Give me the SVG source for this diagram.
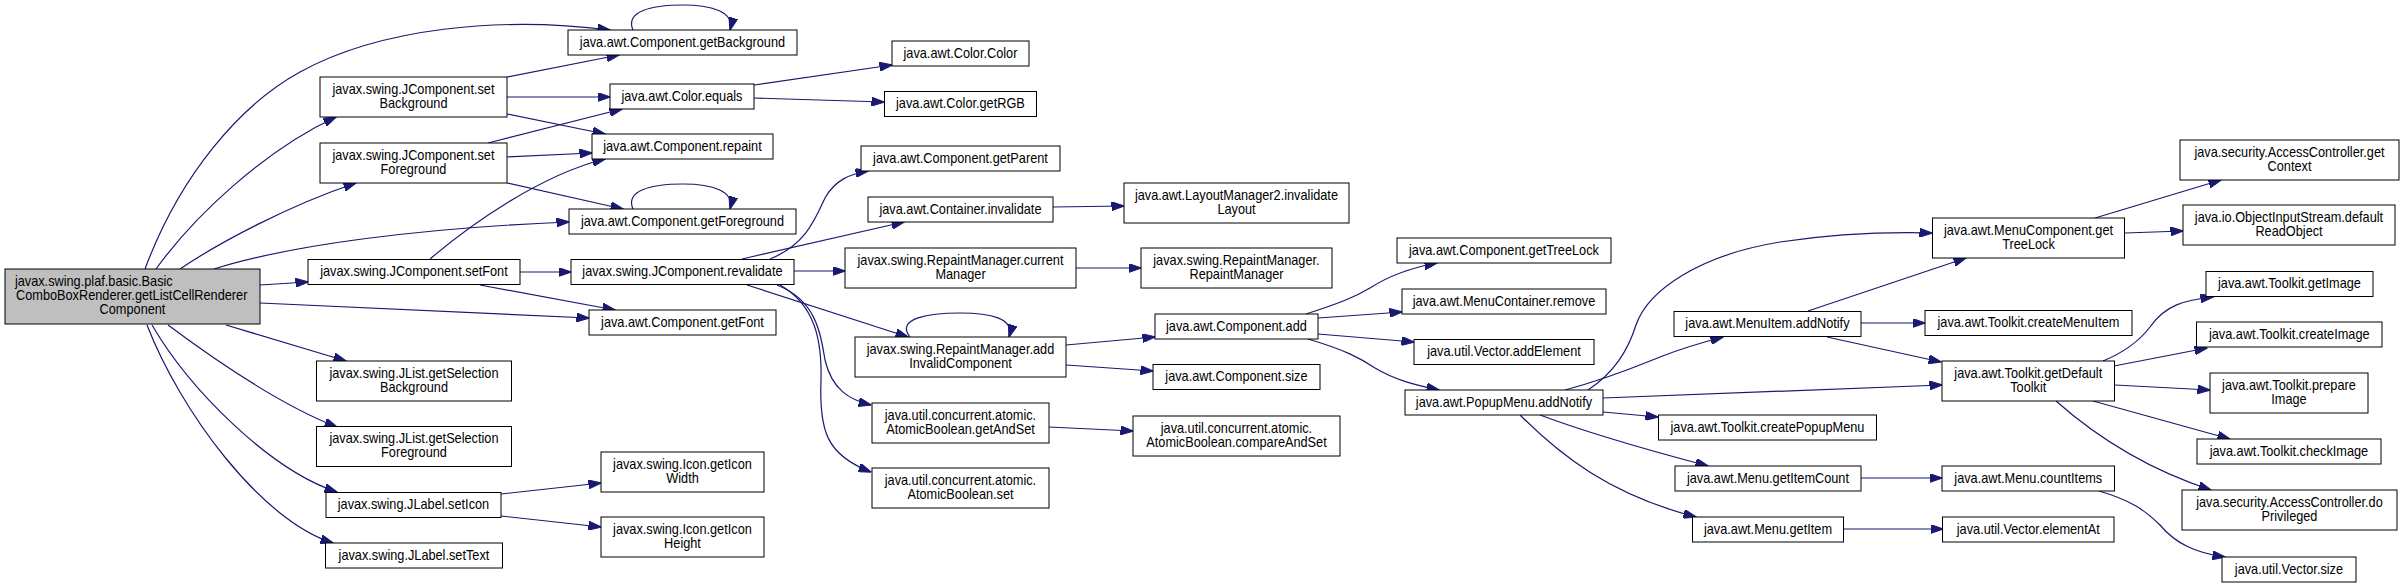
<svg xmlns="http://www.w3.org/2000/svg" width="2404" height="588" viewBox="0 0 2404 588">
<style>
.n rect{fill:#fff;stroke:#000;stroke-width:1}
.root rect{fill:#bfbfbf}
text{font-family:"Liberation Sans",Arial,sans-serif;font-size:14px;fill:#000;text-anchor:middle;transform-box:fill-box;transform-origin:center;transform:scaleX(0.91)}
text.l{text-anchor:start;transform-origin:left center}
#edges path{fill:none;stroke:#191970;stroke-width:1.2;marker-end:url(#a)}
</style>
<defs>
<marker id="a" markerUnits="userSpaceOnUse" markerWidth="13" markerHeight="9" refX="12.5" refY="4.5" orient="auto">
<path d="M0,0 L13,4.5 L0,9 z" fill="#191970" stroke="#191970" stroke-width="1"/>
</marker>
</defs>
<rect width="2404" height="588" fill="#fff"/>
<g id="edges">
<path d="M145,269 C180,175 240,105 300,72 C380,28 500,16 610,30"/>
<path d="M156,269 C195,215 265,150 336,117"/>
<path d="M180,269 C220,242 290,205 356,183"/>
<path d="M214,269 C290,245 420,228 569,222"/>
<path d="M260,285 L308,282"/>
<path d="M260,303 L589,318"/>
<path d="M226,325 L346,361"/>
<path d="M168,325 C215,360 280,405 337,427"/>
<path d="M152,325 C190,390 270,470 337,492"/>
<path d="M147,325 C180,410 260,520 333,543"/>
<path d="M507,77 L619,55"/>
<path d="M507,97 L610,97"/>
<path d="M507,114 L605,134"/>
<path d="M488,143 L622,109"/>
<path d="M507,157 L592,153"/>
<path d="M507,183 L623,209"/>
<path d="M430,259 C470,225 540,175 605,159"/>
<path d="M520,272 L571,272"/>
<path d="M480,285 L615,310"/>
<path d="M633,30 C625,12 650,5 683,5 C712,5 735,12 730,30"/>
<path d="M633,209 C625,191 650,184 683,184 C712,184 735,191 730,209"/>
<path d="M754,85 L892,65"/>
<path d="M754,98 L884,102"/>
<path d="M770,259 C805,245 815,220 825,198 C835,180 850,174 868,171"/>
<path d="M742,259 L904,222"/>
<path d="M794,271 L845,271"/>
<path d="M747,285 L908,337"/>
<path d="M777,285 C815,300 820,330 825,360 C832,390 850,400 871,405"/>
<path d="M780,285 C815,305 822,340 821,380 C819,430 826,455 871,472"/>
<path d="M1053,207 L1124,206"/>
<path d="M1076,268 L1141,268"/>
<path d="M910,337 C895,318 930,313 960,313 C990,313 1015,318 1009,337"/>
<path d="M1066,345 L1155,337"/>
<path d="M1066,365 L1153,371"/>
<path d="M1049,427 L1133,431"/>
<path d="M501,494 L601,483"/>
<path d="M501,516 L601,527"/>
<path d="M1306,314 C1340,303 1355,297 1370,288 C1390,275 1410,268 1437,263"/>
<path d="M1318,318 L1402,312"/>
<path d="M1318,334 L1414,342"/>
<path d="M1308,339 C1345,350 1360,358 1375,368 C1395,380 1415,385 1439,390"/>
<path d="M1588,390 C1615,372 1628,350 1636,325 C1648,290 1700,255 1780,242 C1840,233 1890,232 1932,233"/>
<path d="M1565,390 C1610,378 1640,365 1660,357 C1680,349 1700,343 1723,337"/>
<path d="M1603,398 L1942,385"/>
<path d="M1603,412 L1658,417"/>
<path d="M1540,415 C1580,430 1640,448 1708,466"/>
<path d="M1520,415 C1560,455 1610,495 1696,517"/>
<path d="M1808,311 L1966,258"/>
<path d="M1861,323 L1925,323"/>
<path d="M1827,337 L1941,362"/>
<path d="M2095,218 L2221,180"/>
<path d="M2125,233 L2183,231"/>
<path d="M2103,361 C2125,352 2140,340 2150,327 C2165,305 2185,300 2213,297"/>
<path d="M2114,366 L2207,348"/>
<path d="M2115,385 L2210,390"/>
<path d="M2093,401 L2230,439"/>
<path d="M2056,401 C2100,440 2150,470 2211,490"/>
<path d="M1861,478 L1942,478"/>
<path d="M1844,529 L1943,529"/>
<path d="M2099,491 C2130,500 2145,510 2160,525 C2175,543 2195,553 2225,557"/>
</g>
<g id="n_root" class="n root"><rect x="5" y="269" width="255" height="55"/><text class="l" x="15" y="286.5">javax.swing.plaf.basic.Basic</text><text class="l" x="16" y="300.5">ComboBoxRenderer.getListCellRenderer</text><text x="132.5" y="314.5">Component</text></g>
<g id="n_getBackground" class="n"><rect x="568" y="30" width="229" height="25"/><text x="682.5" y="47">java.awt.Component.getBackground</text></g>
<g id="n_setBackground" class="n"><rect x="320" y="77" width="187" height="40"/><text x="413.5" y="94">javax.swing.JComponent.set</text><text x="413.5" y="108">Background</text></g>
<g id="n_setForeground" class="n"><rect x="320" y="143" width="187" height="40"/><text x="413.5" y="160">javax.swing.JComponent.set</text><text x="413.5" y="174">Foreground</text></g>
<g id="n_colorEquals" class="n"><rect x="610" y="84" width="144" height="25"/><text x="682" y="101">java.awt.Color.equals</text></g>
<g id="n_repaint" class="n"><rect x="592" y="134" width="181" height="25"/><text x="682.5" y="151">java.awt.Component.repaint</text></g>
<g id="n_getForeground" class="n"><rect x="569" y="209" width="227" height="25"/><text x="682.5" y="226">java.awt.Component.getForeground</text></g>
<g id="n_setFont" class="n"><rect x="308" y="259.5" width="212" height="25"/><text x="414" y="276.5">javax.swing.JComponent.setFont</text></g>
<g id="n_revalidate" class="n"><rect x="571" y="259.5" width="223" height="25"/><text x="682.5" y="276.5">javax.swing.JComponent.revalidate</text></g>
<g id="n_getFont" class="n"><rect x="589" y="310" width="187" height="25"/><text x="682.5" y="327">java.awt.Component.getFont</text></g>
<g id="n_getSelBg" class="n"><rect x="316.5" y="361" width="195" height="40"/><text x="414" y="378">javax.swing.JList.getSelection</text><text x="414" y="392">Background</text></g>
<g id="n_getSelFg" class="n"><rect x="316.5" y="426.5" width="195" height="40"/><text x="414" y="443.5">javax.swing.JList.getSelection</text><text x="414" y="457.5">Foreground</text></g>
<g id="n_setIcon" class="n"><rect x="326" y="492.5" width="175" height="25"/><text x="413.5" y="509.5">javax.swing.JLabel.setIcon</text></g>
<g id="n_setText" class="n"><rect x="325.5" y="543" width="177" height="25"/><text x="414" y="560">javax.swing.JLabel.setText</text></g>
<g id="n_getIconWidth" class="n"><rect x="601" y="452" width="163" height="40"/><text x="682.5" y="469">javax.swing.Icon.getIcon</text><text x="682.5" y="483">Width</text></g>
<g id="n_getIconHeight" class="n"><rect x="601" y="517" width="163" height="40"/><text x="682.5" y="534">javax.swing.Icon.getIcon</text><text x="682.5" y="548">Height</text></g>
<g id="n_colorColor" class="n"><rect x="892" y="41" width="137" height="25"/><text x="960.5" y="58">java.awt.Color.Color</text></g>
<g id="n_getRGB" class="n"><rect x="884.5" y="91.5" width="152" height="25"/><text x="960.5" y="108.5">java.awt.Color.getRGB</text></g>
<g id="n_getParent" class="n"><rect x="861" y="146" width="199" height="25"/><text x="960.5" y="163">java.awt.Component.getParent</text></g>
<g id="n_containerInvalidate" class="n"><rect x="868" y="197" width="185" height="25"/><text x="960.5" y="214">java.awt.Container.invalidate</text></g>
<g id="n_currentManager" class="n"><rect x="845" y="248" width="231" height="40"/><text x="960.5" y="265">javax.swing.RepaintManager.current</text><text x="960.5" y="279">Manager</text></g>
<g id="n_addInvalid" class="n"><rect x="855" y="337" width="211" height="40"/><text x="960.5" y="354">javax.swing.RepaintManager.add</text><text x="960.5" y="368">InvalidComponent</text></g>
<g id="n_getAndSet" class="n"><rect x="872" y="403" width="177" height="40"/><text x="960.5" y="420">java.util.concurrent.atomic.</text><text x="960.5" y="434">AtomicBoolean.getAndSet</text></g>
<g id="n_abSet" class="n"><rect x="872" y="468" width="177" height="40"/><text x="960.5" y="485">java.util.concurrent.atomic.</text><text x="960.5" y="499">AtomicBoolean.set</text></g>
<g id="n_invalidateLayout" class="n"><rect x="1124" y="183" width="225" height="40"/><text x="1236.5" y="200">java.awt.LayoutManager2.invalidate</text><text x="1236.5" y="214">Layout</text></g>
<g id="n_rmCtor" class="n"><rect x="1141" y="248" width="191" height="40"/><text x="1236.5" y="265">javax.swing.RepaintManager.</text><text x="1236.5" y="279">RepaintManager</text></g>
<g id="n_compAdd" class="n"><rect x="1155" y="314" width="163" height="25"/><text x="1236.5" y="331">java.awt.Component.add</text></g>
<g id="n_compSize" class="n"><rect x="1153" y="364.5" width="167" height="25"/><text x="1236.5" y="381.5">java.awt.Component.size</text></g>
<g id="n_compareAndSet" class="n"><rect x="1133" y="416" width="207" height="40"/><text x="1236.5" y="433">java.util.concurrent.atomic.</text><text x="1236.5" y="447">AtomicBoolean.compareAndSet</text></g>
<g id="n_compTreeLock" class="n"><rect x="1397" y="238" width="214" height="25"/><text x="1504" y="255">java.awt.Component.getTreeLock</text></g>
<g id="n_mcRemove" class="n"><rect x="1402" y="289" width="204" height="25"/><text x="1504" y="306">java.awt.MenuContainer.remove</text></g>
<g id="n_addElement" class="n"><rect x="1414" y="339.5" width="180" height="25"/><text x="1504" y="356.5">java.util.Vector.addElement</text></g>
<g id="n_popupAddNotify" class="n"><rect x="1405" y="390" width="198" height="25"/><text x="1504" y="407">java.awt.PopupMenu.addNotify</text></g>
<g id="n_menuItemAddNotify" class="n"><rect x="1674" y="311.5" width="187" height="25"/><text x="1767.5" y="328.5">java.awt.MenuItem.addNotify</text></g>
<g id="n_createPopupMenu" class="n"><rect x="1658.5" y="415" width="218" height="25"/><text x="1767.5" y="432">java.awt.Toolkit.createPopupMenu</text></g>
<g id="n_getItemCount" class="n"><rect x="1675" y="466" width="186" height="25"/><text x="1768" y="483">java.awt.Menu.getItemCount</text></g>
<g id="n_getItem" class="n"><rect x="1692.5" y="517" width="151" height="25"/><text x="1768" y="534">java.awt.Menu.getItem</text></g>
<g id="n_mcTreeLock" class="n"><rect x="1932.5" y="218" width="192" height="40"/><text x="2028.5" y="235">java.awt.MenuComponent.get</text><text x="2028.5" y="249">TreeLock</text></g>
<g id="n_createMenuItem" class="n"><rect x="1925" y="310.5" width="207" height="25"/><text x="2028.5" y="327.5">java.awt.Toolkit.createMenuItem</text></g>
<g id="n_defaultToolkit" class="n"><rect x="1942" y="361" width="172.5" height="40"/><text x="2028.3" y="378">java.awt.Toolkit.getDefault</text><text x="2028.3" y="392">Toolkit</text></g>
<g id="n_countItems" class="n"><rect x="1942" y="466" width="172.5" height="25"/><text x="2028.3" y="483">java.awt.Menu.countItems</text></g>
<g id="n_elementAt" class="n"><rect x="1942.5" y="517" width="171.5" height="25"/><text x="2028.3" y="534">java.util.Vector.elementAt</text></g>
<g id="n_getContext" class="n"><rect x="2180" y="140" width="219" height="40"/><text x="2289.5" y="157">java.security.AccessController.get</text><text x="2289.5" y="171">Context</text></g>
<g id="n_defaultReadObject" class="n"><rect x="2183" y="205" width="212" height="40"/><text x="2289" y="222">java.io.ObjectInputStream.default</text><text x="2289" y="236">ReadObject</text></g>
<g id="n_getImage" class="n"><rect x="2206" y="271.5" width="167" height="25"/><text x="2289.5" y="288.5">java.awt.Toolkit.getImage</text></g>
<g id="n_createImage" class="n"><rect x="2196.5" y="322" width="185.5" height="25"/><text x="2289.3" y="339">java.awt.Toolkit.createImage</text></g>
<g id="n_prepareImage" class="n"><rect x="2210" y="373" width="158" height="40"/><text x="2289" y="390">java.awt.Toolkit.prepare</text><text x="2289" y="404">Image</text></g>
<g id="n_checkImage" class="n"><rect x="2197" y="439" width="184" height="25"/><text x="2289" y="456">java.awt.Toolkit.checkImage</text></g>
<g id="n_doPrivileged" class="n"><rect x="2182" y="490" width="215" height="40"/><text x="2289.5" y="507">java.security.AccessController.do</text><text x="2289.5" y="521">Privileged</text></g>
<g id="n_vectorSize" class="n"><rect x="2222" y="557" width="134" height="25"/><text x="2289" y="574">java.util.Vector.size</text></g>
</svg>
